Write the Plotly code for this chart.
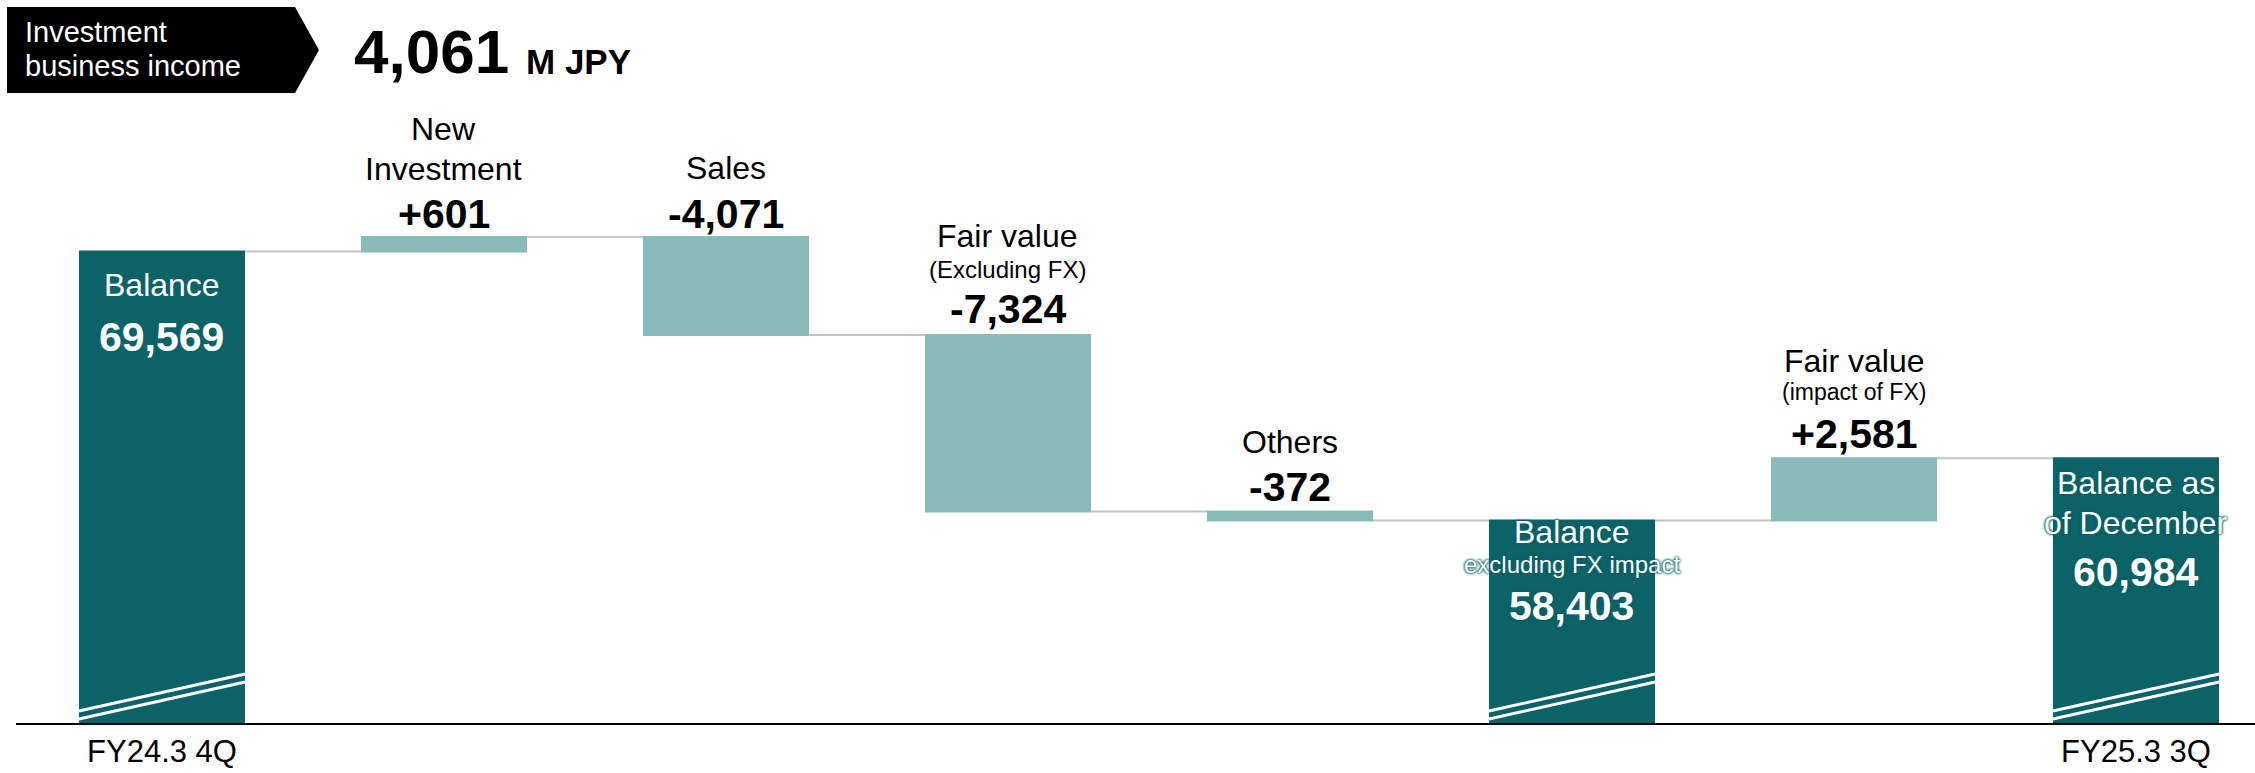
import plotly.graph_objects as go

# ---- data -------------------------------------------------------------
categories = ["FY24.3 4Q", "New Investment", "Sales", "Fair value (Excluding FX)",
              "Others", "Balance excluding FX impact", "Fair value (impact of FX)",
              "FY25.3 3Q"]
measures = ["absolute", "relative", "relative", "relative", "relative",
            "total", "relative", "total"]
values = [69569, 601, -4071, -7324, -372, 0, 2581, 0]
tick_labels = ["FY24.3 4Q", "FY25.3 3Q"]
name_lines = [["Balance"], ["New", "Investment"], ["Sales"],
              ["Fair value", "(Excluding FX)"], ["Others"],
              ["Balance", "excluding FX impact"], ["Fair value", "(impact of FX)"],
              ["Balance as", "of December"]]
headline_label = ["Investment", "business income"]
headline_value = "4,061"
headline_unit = "M JPY"

# ---- styling ----------------------------------------------------------
DARK = "#0b6267"
LIGHT = "#89bbbb"
CONNECTOR = "#c4c4c4"
FONT = "Liberation Sans, Arial, sans-serif"
W, H = 2255, 773
ML, MB = 16, 50
Y_MIN, Y_MAX = 50000, 80000
X_RANGE = [-0.5177, 7.422]
BAR_W = 0.589

x = list(range(len(categories)))

# running start/end of each bar
starts, ends = [], []
level = 0
for m, v in zip(measures, values):
    if m == "absolute":
        s, e = 0, v
    elif m == "total":
        s, e = 0, level
    else:
        s, e = level, level + v
    level = e
    starts.append(s)
    ends.append(e)
tops = [max(s, e) for s, e in zip(starts, ends)]

def value_text(m, s, e):
    if m == "relative":
        d = e - s
        return f"{'+' if d > 0 else '-'}{abs(d):,}"
    return f"{e:,}"

fig = go.Figure(go.Waterfall(
    x=x, y=values, measure=measures, width=[BAR_W] * len(x),
    increasing=dict(marker=dict(color=LIGHT, line=dict(width=0))),
    decreasing=dict(marker=dict(color=LIGHT, line=dict(width=0))),
    totals=dict(marker=dict(color=DARK, line=dict(width=0))),
    connector=dict(mode="between", line=dict(color=CONNECTOR, width=2)),
    textinfo="none", hoverinfo="x+y", showlegend=False,
))

annotations = []

def add_label(i, text, shift, size, bold=False, color="black", shadow=None):
    font = dict(family=FONT, size=size, color=color)
    if shadow:
        font["shadow"] = shadow
    annotations.append(dict(
        x=x[i], y=tops[i], xref="x", yref="y", yshift=shift,
        text=f"<b>{text}</b>" if bold else text,
        showarrow=False, xanchor="center", yanchor="middle", font=font))

glow = f"0px 0px 3px {DARK}, 0px 0px 3px {DARK}, 0px 0px 2px {DARK}"

# per-bar label layout: pixel offsets from the bar top (name lines, value), sizes
label_layout = {
    0: ([-34], -86, [32]),
    1: ([108, 68], 23, [32, 32]),
    2: ([69], 23, [32]),
    3: ([99, 66], 26, [32, 24]),
    4: ([70], 25, [32]),
    5: ([-12, -44], -86, [32, 24]),
    6: ([97, 66], 24, [32, 23]),
    7: ([-25, -65], -114, [32, 32]),
}

for i in x:
    offs, voff, sizes = label_layout[i]
    inside = measures[i] != "relative"
    col = "white" if inside else "black"
    sh = glow if i in (5, 7) else None
    for line, off, sz in zip(name_lines[i], offs, sizes):
        add_label(i, line, off, sz, color=col, shadow=sh)
    add_label(i, value_text(measures[i], starts[i], ends[i]), voff, 41,
              bold=True, color=col, shadow=sh)

# axis-break marks on the balance bars
shapes = []
for i in x:
    if measures[i] == "relative":
        continue
    for lo, hi in [(0.0055, 0.0567), (0.0166, 0.0678)]:
        shapes.append(dict(
            type="line", xref="x", yref="y domain",
            x0=x[i] - BAR_W / 2, x1=x[i] + BAR_W / 2, y0=lo, y1=hi,
            line=dict(color="white", width=3), layer="above"))

# headline badge
PW = W - ML
PH = H - MB

def px(xp, yp):
    return (xp - ML) / PW, (PH - yp) / PH

pts = [px(7, 7), px(295, 7), px(319, 50), px(295, 93), px(7, 93)]
path = "M " + " L ".join(f"{a:.5f},{b:.5f}" for a, b in pts) + " Z"
shapes.append(dict(type="path", xref="paper", yref="paper", path=path,
                   fillcolor="black", line=dict(width=0), layer="above"))

for line, ypix in zip(headline_label, [32, 66]):
    hx, hy = px(23, ypix)
    annotations.append(dict(x=hx, y=hy, xref="paper", yref="paper",
                            text=line, showarrow=False,
                            xanchor="left", yanchor="middle",
                            font=dict(family=FONT, size=29, color="white")))
vx, vy = px(352, 52)
annotations.append(dict(x=vx, y=vy, xref="paper", yref="paper",
                        text=f"<b>{headline_value}</b>", showarrow=False,
                        xanchor="left", yanchor="middle",
                        font=dict(family=FONT, size=62, color="black")))
ux, uy = px(524, 61)
annotations.append(dict(x=ux, y=uy, xref="paper", yref="paper",
                        text=f"<b>{headline_unit}</b>", showarrow=False,
                        xanchor="left", yanchor="middle",
                        font=dict(family=FONT, size=35, color="black")))

fig.update_layout(
    width=W, height=H,
    margin=dict(l=ML, r=0, t=0, b=MB),
    paper_bgcolor="white", plot_bgcolor="white",
    xaxis=dict(range=X_RANGE, tickvals=[x[0], x[-1]], ticktext=tick_labels,
               showgrid=False, zeroline=False, showline=True,
               linecolor="black", linewidth=2, ticks="",
               tickfont=dict(family=FONT, size=31, color="black")),
    yaxis=dict(range=[Y_MIN, Y_MAX], visible=False, showgrid=False),
    annotations=annotations, shapes=shapes,
)

fig.write_html("out.html")
